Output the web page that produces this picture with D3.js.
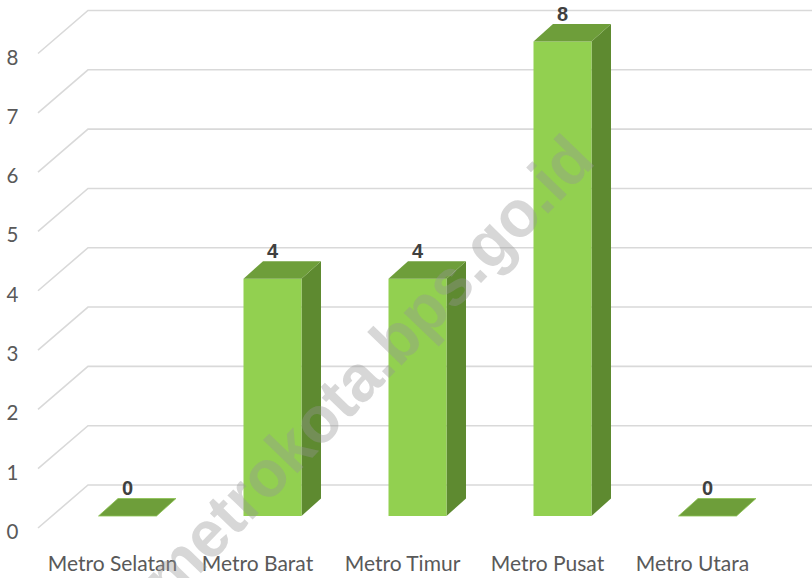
<!DOCTYPE html>
<html><head><meta charset="utf-8">
<script src="https://cdn.jsdelivr.net/npm/d3@7/dist/d3.min.js"></script>
<style>html,body{margin:0;padding:0;background:#fff;}svg{display:block;}</style>
</head><body>
<svg id="c" width="812" height="578"></svg>
<script>
const categories = ["Metro Selatan","Metro Barat","Metro Timur","Metro Pusat","Metro Utara"];
const values = [0,4,4,8,0];
const yTicks = [0,1,2,3,4,5,6,7,8];
const watermark = "metrokota.bps.go.id";

const svg = d3.select("#c");
const W = 812, H = 578;
// bar front plane scale
const y = d3.scaleLinear().domain([0,8]).range([516, 41.5]);
const x = d3.scaleBand().domain(categories).range([55, 780]).paddingInner(0.6).paddingOuter(0.3);
const depthX = 19.5, depthY = -17.5;
// grid offsets (front edge of floor / back wall)
const frontX = 38, frontDY = 12, backX = 88, backDY = -31;

const grid = svg.append("g");
yTicks.forEach(v => {
  grid.append("path")
    .attr("d", `M${frontX},${y(v)+frontDY} L${backX},${y(v)+backDY} L${W},${y(v)+backDY}`)
    .attr("fill","none").attr("stroke","#d9d9d9").attr("stroke-width",1.6);
});

svg.append("g").selectAll("text").data(yTicks).join("text")
  .attr("x", 12.5).attr("y", d => y(d)+frontDY+3)
  .attr("text-anchor","middle").attr("dominant-baseline","central")
  .attr("font-family","Lato, 'Liberation Sans', sans-serif").attr("font-size",20.5)
  .attr("fill","#595959").text(d => d);

const bars = svg.append("g");
categories.forEach((c,i) => {
  const v = values[i];
  const x0 = x(c), x1 = x(c)+x.bandwidth();
  const yt = y(v), yb = y(0);
  const g = bars.append("g");
  if (v > 0) {
    g.append("path").attr("d", `M${x1},${yb} L${x1+depthX},${yb+depthY} L${x1+depthX},${yt+depthY} L${x1},${yt} Z`)
      .attr("fill","#5e8a30");
    g.append("rect").attr("x", x0).attr("y", yt).attr("width", x1-x0).attr("height", yb-yt)
      .attr("fill","#92d050");
  }
  g.append("path").attr("d", `M${x0},${yt} L${x0+depthX},${yt+depthY} L${x1+depthX},${yt+depthY} L${x1},${yt} Z`)
    .attr("fill","#6e9e3a").attr("stroke", v>0 ? "none" : "#8cc152").attr("stroke-width", 0.8);
  svg.append("text")
    .attr("x", (x0+x1)/2).attr("y", yt + depthY - 3.5)
    .attr("text-anchor","middle")
    .attr("font-family","'Liberation Sans', Arial, sans-serif").attr("font-weight","bold").attr("font-size",20)
    .attr("fill","#404040").text(v);
});

svg.append("g").selectAll("text").data(categories).join("text")
  .attr("x", d => x(d)+x.bandwidth()/2 - 15).attr("y", 571)
  .attr("text-anchor","middle")
  .attr("font-family","Lato, 'Liberation Sans', sans-serif").attr("font-size",21)
  .attr("fill","#595959").text(d => d);

svg.append("text")
  .attr("transform","translate(367,368) rotate(-46)")
  .attr("text-anchor","middle").attr("dominant-baseline","central")
  .attr("font-family","'Liberation Sans', Arial, sans-serif").attr("font-weight","bold").attr("font-size",66)
  .attr("textLength",615).attr("lengthAdjust","spacingAndGlyphs")
  .attr("fill","#969696").attr("fill-opacity",0.38).text(watermark);
</script>
</body></html>
